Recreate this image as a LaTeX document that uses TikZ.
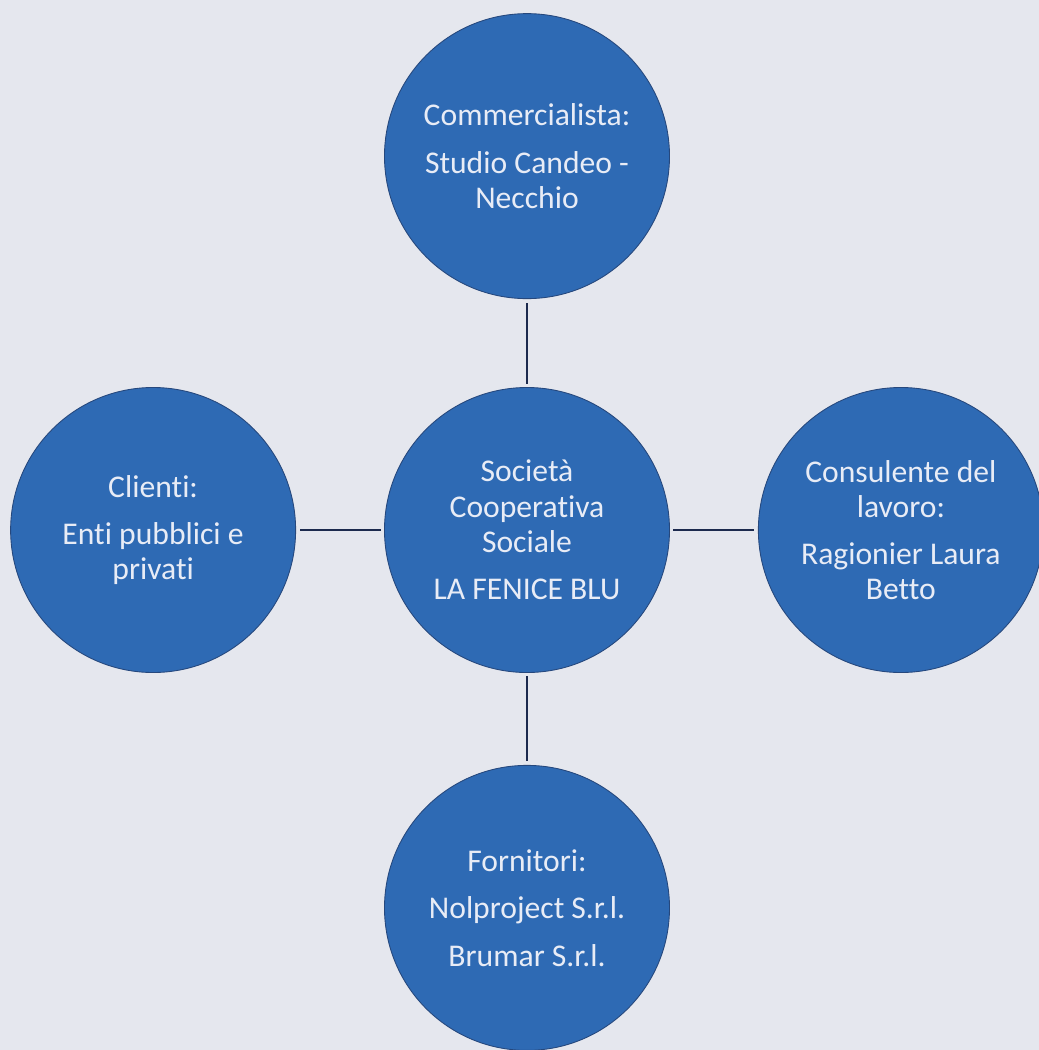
\documentclass[tikz,border=0pt]{standalone}
\usepackage{fontspec}
\setmainfont{Carlito}[Ligatures=NoCommon]
\usepackage{tikz}
\usetikzlibrary{positioning}
\definecolor{paper}{RGB}{229,231,238}
\definecolor{fenice}{RGB}{46,106,180}
\definecolor{fenicedark}{RGB}{38,72,125}
\definecolor{linkcolor}{RGB}{28,42,78}
\definecolor{fenicetext}{RGB}{232,236,246}
\tikzset{
    party/.style={
        circle, fill=fenice, draw=fenicedark, line width=0.5pt,
        minimum size=5.7cm, inner sep=0pt, align=center,
        text=fenicetext, font=\fontsize{18}{20}\selectfont,
    },
    link/.style={draw=linkcolor, line width=1.2pt, shorten <=2pt, shorten >=2pt},
}

\begin{document}
\begin{tikzpicture}[node distance=1.76cm]
    \fill[paper] (0,0) rectangle (20.78,-21.0);
    \useasboundingbox (0,0) rectangle (20.78,-21.0);

    \node[party] (v1) at (10.54,-10.60) {Società \\ Cooperativa \\ Sociale \\[7pt] LA FENICE BLU};
    \node[party] (v2) [above=of v1] {Commercialista: \\[7pt] Studio Candeo - \\ Necchio};
    \node[party] (v3) [left=of v1] {Clienti: \\[7pt] Enti pubblici e \\ privati};
    \node[party] (v4) [right=of v1] {Consulente del \\ lavoro: \\[7pt] Ragionier Laura \\ Betto};
    \node[party] (v5) [below=1.84cm of v1] {Fornitori: \\[7pt] Nolproject S.r.l. \\[7pt] Brumar S.r.l.};

    \draw[link] (v1) -- (v2);
    \draw[link] (v1) -- (v3);
    \draw[link] (v1) -- (v4);
    \draw[link] (v1) -- (v5);
\end{tikzpicture}
\end{document}
